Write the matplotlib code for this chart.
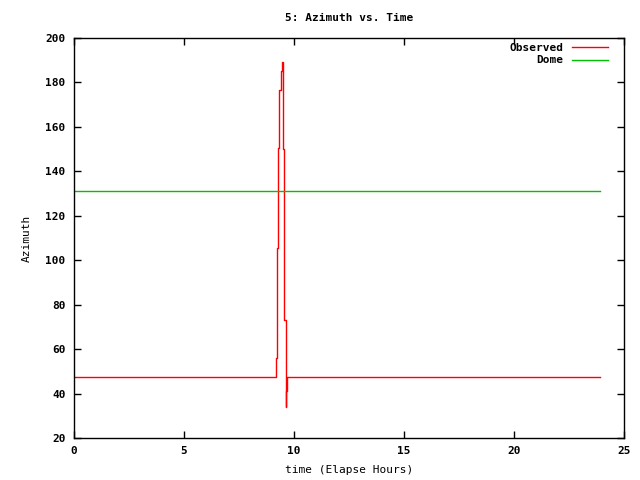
import matplotlib
matplotlib.use("Agg")
import matplotlib.pyplot as plt

# Observed azimuth (step data)
obs_time = [0, 9.17, 9.21, 9.24, 9.29, 9.33, 9.40, 9.44, 9.51, 9.56, 9.62, 9.64, 9.67, 23.9]
obs_az = [47.5, 56, 74, 105.5, 150.5, 176.5, 185, 189, 150, 73, 34, 41, 47.5, 47.5]

# Dome azimuth
dome_time = [0, 23.9]
dome_az = [131, 131]

x_ticks = [0, 5, 10, 15, 20, 25]
y_ticks = [20, 40, 60, 80, 100, 120, 140, 160, 180, 200]

plt.rcParams['font.family'] = ['DejaVu Sans Mono']
plt.rcParams['font.weight'] = 'bold'
plt.rcParams['font.size'] = 8

fig = plt.figure(figsize=(6.4, 4.8), dpi=100)
ax = fig.add_axes([74/640, 42/480, 550/640, 400/480])

ax.step(obs_time, obs_az, where='post', color='#ff0000', lw=1, label='Observed')
ax.plot(dome_time, dome_az, color='#00c000', lw=1, label='Dome')

ax.set_xlim(0, 25)
ax.set_ylim(20, 200)
ax.set_xticks(x_ticks)
ax.set_yticks(y_ticks)
ax.tick_params(direction='in', top=True, right=True, length=5, width=1, pad=6)
for s in ax.spines.values():
    s.set_linewidth(1)

ax.set_title('5: Azimuth vs. Time', pad=12, fontsize=8, fontweight='bold')
ax.set_xlabel('time (Elapse Hours)', labelpad=6)
ax.set_ylabel('Azimuth', labelpad=10)

ax.legend(loc='upper right', bbox_to_anchor=(1 - 14/550, 1 - 3/400), frameon=False,
          markerfirst=False, handlelength=3.2, borderaxespad=0, borderpad=0.2,
          labelspacing=0.2, handletextpad=0.8)

fig.savefig('out.png', dpi=100)
